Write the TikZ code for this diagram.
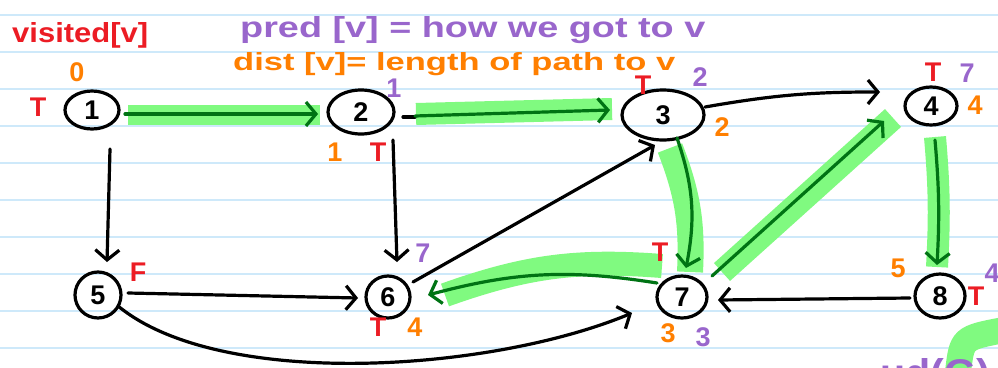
\documentclass[tikz,border=0pt]{standalone}
\usepackage{fontspec}
\usepackage{graphicx}
\setmainfont{Liberation Sans}
\usetikzlibrary{arrows.meta,shapes.geometric}
\definecolor{hlgreen}{RGB}{128,250,128}
\definecolor{dgreen}{RGB}{0,115,20}
\definecolor{mred}{RGB}{236,28,36}
\definecolor{mpurple}{RGB}{153,102,204}
\definecolor{morange}{RGB}{255,127,0}
\definecolor{rulecol}{RGB}{206,233,250}
\pgfdeclarelayer{bg}
\pgfsetlayers{bg,main}
\begin{document}
\begin{tikzpicture}[x=1pt,y=-1pt,
  vtx/.style={draw, ellipse, line width=3.2pt, inner sep=0pt, font=\fontsize{27}{27}\selectfont\bfseries},
  lab/.style={font=\fontsize{27}{27}\selectfont\bfseries, inner sep=0pt},
  head/.style={anchor=base west, inner sep=0pt, font=\bfseries},
  stroke/.style={line width=3.2pt, line cap=round},
  plain/.style={stroke, -{Straight Barb[length=10pt,width=24pt]}},
  tree/.style={plain, dgreen},
  hl/.style={hlgreen, line width=#1, line cap=butt},
  hl/.default=22pt]
\useasboundingbox (0,0) rectangle (998,367);
\clip (0,0) rectangle (998,367);
\begin{pgfonlayer}{bg}
  \fill[white] (0,0) rectangle (998,367);
  \foreach \yy in {15,52,...,348} \draw[rulecol, line width=1.4pt] (0,\yy) -- (998,\yy);
\end{pgfonlayer}

% vertices
\node[vtx, minimum width=54pt, minimum height=38pt] (n1) at (92,110) {1};
\node[vtx, minimum width=66pt, minimum height=44pt] (n2) at (361,112) {2};
\node[vtx, minimum width=82pt, minimum height=50pt] (n3) at (663,115) {3};
\node[vtx, minimum width=52pt, minimum height=38pt] (n4) at (931,106) {4};
\node[vtx, minimum width=46pt, minimum height=46pt] (n5) at (98,295) {5};
\node[vtx, minimum width=44pt, minimum height=42pt] (n6) at (388,297) {6};
\node[vtx, minimum width=50pt, minimum height=42pt] (n7) at (682,297) {7};
\node[vtx, minimum width=50pt, minimum height=44pt] (n8) at (940,296) {8};

% headings
\node[head, mred] (hv) at (12,42) {\resizebox{136pt}{20pt}{visited[v]}};
\node[head, mpurple] (hp) at (240,37) {\resizebox{465pt}{21pt}{pred [v] = how we got to v}};
\node[head, morange] (hd) at (233,70) {\resizebox{442pt}{18pt}{dist [v]= length of path to v}};

% annotations
\node[lab, morange] (d1) at (77,72) {0};
\node[lab, mred] (v1) at (38,107) {T};
\node[lab, mpurple] (p2) at (394,88) {1};
\node[lab, morange] (d2) at (335,152) {1};
\node[lab, mred] (v2) at (378,152) {T};
\node[lab, mred] (v3) at (643,85) {T};
\node[lab, mpurple] (p3) at (700,77) {2};
\node[lab, morange] (d3) at (722,127) {2};
\node[lab, mred] (v4) at (933,72) {T};
\node[lab, mpurple] (p4) at (967,73) {7};
\node[lab, morange] (d4) at (975,105) {4};
\node[lab, mred] (v5) at (138,272) {F};
\node[lab, mpurple] (p6) at (423,253) {7};
\node[lab, mred] (v6) at (378,327) {T};
\node[lab, morange] (d6) at (415,327) {4};
\node[lab, mred] (v7) at (660,252) {T};
\node[lab, morange] (d7) at (668,333) {3};
\node[lab, mpurple] (p7) at (703,337) {3};
\node[lab, morange] (d8) at (898,268) {5};
\node[lab, mred] (v8) at (976,296) {T};
\node[lab, mpurple] (p8) at (992,273) {4};

% highlights
\begin{pgfonlayer}{bg}
  \draw[hl=20pt] ([shift={(36,5)}]n1.center) -- ([shift={(-41,3)}]n2.center);
  \draw[hl] ([shift={(55,2)}]n2.center) -- ([shift={(-51,-6)}]n3.center);
  \draw[hl=26pt] ([shift={(7,33)}]n3.center) to[bend left=12] ([shift={(8,-25)}]n7.center);
  \draw[hl=24pt] ([shift={(40,-25)}]n7.center) -- ([shift={(-38,12)}]n4.center);
  \draw[hl] ([shift={(4,31)}]n4.center) to[bend left=4] ([shift={(-3,-29)}]n8.center);
  \draw[hl=24pt] ([shift={(-20,-31)}]n7.center) to[bend right=12] ([shift={(57,-2)}]n6.center);
  \draw[hl=26pt] (958,372) .. controls (962,338) .. (1004,330);
\end{pgfonlayer}

% partial writing at the bottom right
\node[anchor=base west, inner sep=0pt, mpurple, font=\bfseries] (pw) at (880,386) {\resizebox{110pt}{28pt}{ud(G)}};

% edges
\draw[stroke] ([shift={(42,5)}]n2.center) -- ([shift={(54,5)}]n2.center);
\draw[tree] ([shift={(33,4)}]n1.center) -- ([shift={(-43,2)}]n2.center);
\draw[tree] ([shift={(54,4)}]n2.center) -- ([shift={(-53,-5)}]n3.center);
\draw[plain] ([shift={(42,-8)}]n3.center) to[bend left=5] ([shift={(-51,-14)}]n4.center);
\draw[plain] ([shift={(18,39)}]n1.center) -- ([shift={(9,-33)}]n5.center);
\draw[plain] ([shift={(32,28)}]n2.center) -- ([shift={(9,-35)}]n6.center);
\draw[plain] ([shift={(30,-2)}]n5.center) -- ([shift={(-30,1)}]n6.center);
\draw[plain] ([shift={(20,11)}]n5.center) .. controls +(102,84) and +(-142,59) .. ([shift={(-50,16)}]n7.center);
\draw[plain] ([shift={(25,-15)}]n6.center) -- ([shift={(-8,30)}]n3.center);
\draw[tree] ([shift={(14,23)}]n3.center) to[bend left=15] ([shift={(4,-29)}]n7.center);
\draw[tree] ([shift={(30,-21)}]n7.center) -- ([shift={(-47,15)}]n4.center);
\draw[tree] ([shift={(4,34)}]n4.center) to[bend left=4] ([shift={(-3,-31)}]n8.center);
\draw[plain] ([shift={(-30,2)}]n8.center) -- ([shift={(36,3)}]n7.center);
\draw[tree] ([shift={(-25,-14)}]n7.center) to[bend right=12] ([shift={(40,-2)}]n6.center);
\end{tikzpicture}
\end{document}
